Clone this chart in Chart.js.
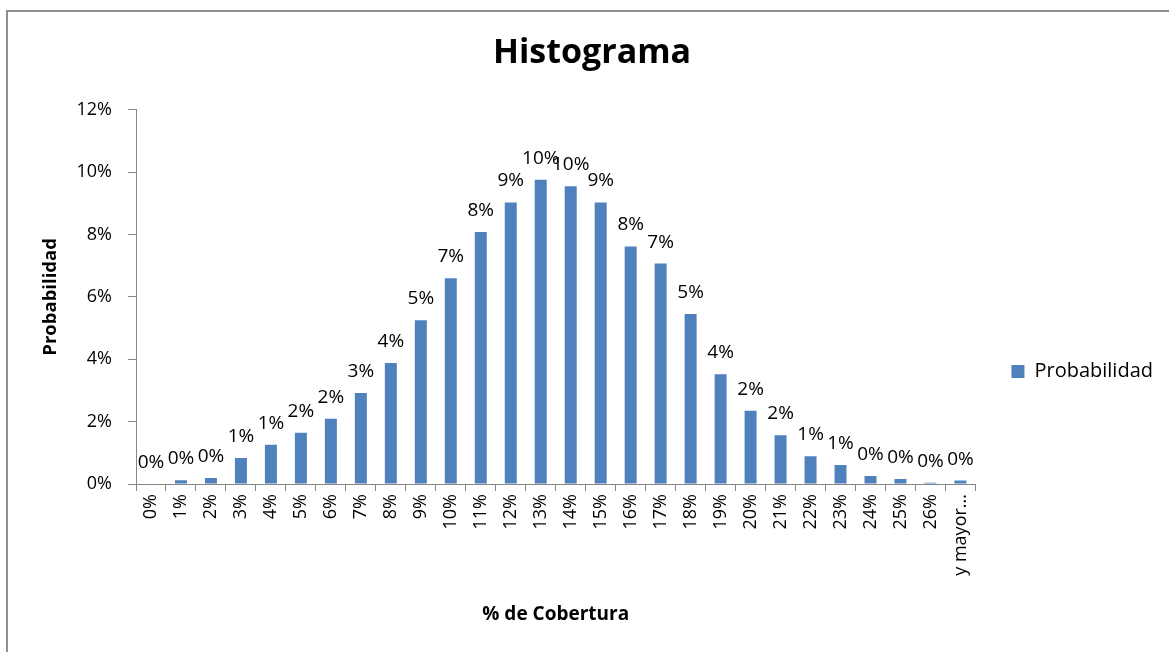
<!DOCTYPE html>
<html>
<head>
<meta charset="utf-8">
<title>Histograma</title>
<script src="https://cdn.jsdelivr.net/npm/chart.js@4.4.1/dist/chart.umd.min.js"></script>
<style>
  html, body { margin: 0; padding: 0; background: #fff; overflow: hidden; }
  #frame {
    position: absolute; left: 6px; top: 10px;
    width: 1200px; height: 700px;
    border: 2px solid #8f8f8f;
  }
  #wrap { position: absolute; left: 0; top: 0; width: 1169px; height: 652px; }
</style>
</head>
<body>
<div id="frame"></div>
<div id="wrap"><canvas id="histograma"></canvas></div>
<script>
// clases del histograma (% de cobertura)
var clases = ['0%', '1%', '2%', '3%', '4%', '5%', '6%', '7%', '8%', '9%',
  '10%', '11%', '12%', '13%', '14%', '15%', '16%', '17%', '18%', '19%',
  '20%', '21%', '22%', '23%', '24%', '25%', '26%', 'y mayor...'];

// probabilidad de cada clase, en %
var probabilidad = [0.0, 0.12, 0.19, 0.83, 1.26, 1.64, 2.09, 2.92, 3.88, 5.25,
  6.60, 8.08, 9.03, 9.76, 9.55, 9.03, 7.62, 7.07, 5.45, 3.52,
  2.35, 1.56, 0.89, 0.61, 0.26, 0.16, 0.04, 0.11];

var ejeY = { min: 0, max: 12, paso: 2 };

Chart.defaults.font.family = '"Open Sans"';
Chart.defaults.color = '#000';

// etiqueta con el valor encima de cada barra
var etiquetas = {
  id: 'etiquetas',
  afterDatasetsDraw: function(chart) {
    var ctx = chart.ctx;
    var meta = chart.getDatasetMeta(0);
    ctx.save();
    ctx.font = '19px "Open Sans"';
    ctx.fillStyle = '#000';
    ctx.textAlign = 'center';
    ctx.textBaseline = 'alphabetic';
    meta.data.forEach(function(bar, i) {
      var v = chart.data.datasets[0].data[i];
      ctx.fillText(Math.round(v) + '%', bar.x, bar.y - 16);
    });
    ctx.restore();
  }
};

var ctx = document.getElementById('histograma');

var grafico = new Chart(ctx, {
  type: 'bar',
  data: {
    labels: clases,
    datasets: [{
      label: 'Probabilidad',
      data: probabilidad,
      backgroundColor: '#4f81bd',
      borderWidth: 0,
      barPercentage: 0.4,
      categoryPercentage: 1.0
    }]
  },
  plugins: [etiquetas],
  options: {
    responsive: true,
    maintainAspectRatio: false,
    animation: false,
    layout: { padding: { left: 21, top: 0, right: 6, bottom: 22 } },
    plugins: {
      title: {
        display: true,
        text: 'Histograma',
        font: { size: 34, weight: 'bold' },
        padding: { top: 33, bottom: 36 }
      },
      legend: {
        position: 'right',
        // título vacío: solo baja la leyenda
        title: { display: true, text: '', font: { size: 10 }, padding: { top: 101, bottom: 0 } },
        labels: {
          boxWidth: 13,
          boxHeight: 13,
          padding: 36,
          font: { size: 20 }
        }
      },
      tooltip: { enabled: false }
    },
    scales: {
      x: {
        grid: {
          display: true,
          drawOnChartArea: false,
          drawTicks: true,
          tickLength: 7,
          color: '#868686'
        },
        border: { color: '#868686' },
        ticks: {
          minRotation: 90,
          maxRotation: 90,
          autoSkip: false,
          padding: 3,
          font: { size: 18 }
        },
        title: {
          display: true,
          text: '% de Cobertura',
          font: { size: 19, weight: 'bold' },
          padding: 4
        },
        afterFit: function(scale) { scale.height = 146; }
      },
      y: {
        min: ejeY.min,
        max: ejeY.max,
        grid: {
          display: true,
          drawOnChartArea: false,
          drawTicks: true,
          tickLength: 8,
          color: '#868686'
        },
        border: { color: '#868686' },
        ticks: {
          stepSize: ejeY.paso,
          padding: 16,
          font: { size: 18 },
          callback: function(v) { return v + '%'; }
        },
        title: {
          display: true,
          text: 'Probabilidad',
          font: { size: 18.5, weight: 'bold' },
          padding: 19
        },
        afterFit: function(scale) { scale.width = 115; }
      }
    }
  }
});
</script>
</body>
</html>
